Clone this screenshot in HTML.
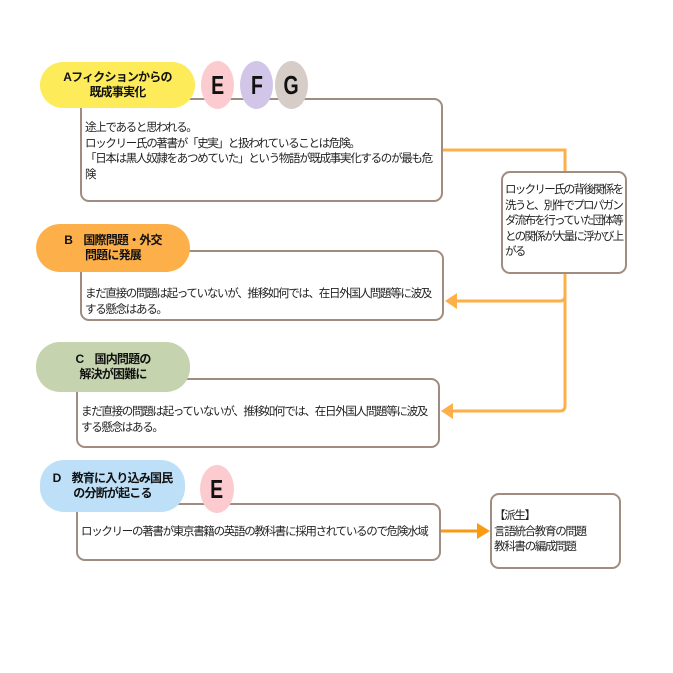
<html><head><style>
body{margin:0;width:673px;height:673px;background:#fff;position:relative;overflow:hidden;font-family:"Liberation Sans","Noto Sans CJK JP",sans-serif;}
.p{position:absolute;border-radius:24px;font-weight:bold;font-size:12px;letter-spacing:-0.8px;text-align:center;line-height:15px;display:flex;align-items:center;justify-content:center;color:#111;}
.b{position:absolute;border:2px solid #a08c80;border-radius:9px;background:#fff;font-size:11.5px;letter-spacing:-1.3px;line-height:15.5px;color:#222;box-sizing:border-box;}
.c{position:absolute;width:33px;height:48px;border-radius:50%;font-weight:bold;font-size:26px;display:flex;align-items:center;justify-content:center;color:#111;}
.c span{display:inline-block;transform:scaleX(0.75)}
</style></head><body>
<svg width="673" height="673" style="position:absolute;left:0;top:0">
<g fill="none" stroke="#fdb04a" stroke-width="3">
<path d="M442 150 H565 V172"/>
<path d="M565 273 V406 Q565 411 560 411 H452"/>
<path d="M565 296 Q565 301 560 301 H456"/>
</g>
<polygon points="445,301 457,293 457,309" fill="#fdb04a"/>
<polygon points="441,411 453,403 453,419" fill="#fdb04a"/>
<line x1="440" y1="531" x2="478" y2="531" stroke="#f99a10" stroke-width="3"/>
<polygon points="490,531 477,523 477,539" fill="#f99a10"/>
</svg>
<div class="b" style="left:80px;top:98px;width:363px;height:104px;padding:21px 2px 0 3px">途上であると思われる。<br>ロックリー氏の著書が「史実」と扱われていることは危険。<br>「日本は黒人奴隷をあつめていた」という物語が既成事実化するのが最も危険</div>
<div class="p" style="left:40px;top:62px;width:155px;height:46px;background:#fdeb5a">Aフィクションからの<br>既成事実化</div>
<div class="c" style="left:201px;top:61px;background:#fccbd0"><span>E</span></div>
<div class="c" style="left:240px;top:61px;background:#d2c6e8"><span>F</span></div>
<div class="c" style="left:275px;top:61px;background:#d6ccc8"><span>G</span></div>
<div class="b" style="left:501px;top:171px;width:126px;height:103px;padding:10px 0 0 2px;letter-spacing:-1.7px">ロックリー氏の背後関係を洗うと、別件でプロパガンダ流布を行っていた団体等との関係が大量に浮かび上がる</div>
<div class="b" style="left:80px;top:250px;width:364px;height:71px;padding:35px 2px 0 3px">まだ直接の問題は起っていないが、推移如何では、在日外国人問題等に波及する懸念はある。</div>
<div class="p" style="left:36px;top:224px;width:154px;height:48px;background:#fdb04a">B　国際問題・外交<br>問題に発展</div>
<div class="b" style="left:76px;top:378px;width:364px;height:70px;padding:25px 2px 0 3px">まだ直接の問題は起っていないが、推移如何では、在日外国人問題等に波及する懸念はある。</div>
<div class="p" style="left:36px;top:342px;width:154px;height:50px;background:#c5d3ae">C　国内問題の<br>解決が困難に</div>
<div class="b" style="left:76px;top:503px;width:365px;height:58px;padding:20px 2px 0 3px">ロックリーの著書が東京書籍の英語の教科書に採用されているので危険水域</div>
<div class="p" style="left:40px;top:460px;width:145px;height:52px;background:#bde0f8">D　教育に入り込み国民<br>の分断が起こる</div>
<div class="c" style="left:200px;top:465px;width:34px;background:#fccbd0"><span>E</span></div>
<div class="b" style="left:490px;top:493px;width:131px;height:76px;padding:14px 2px 0 2px">【派生】<br>言語統合教育の問題<br>教科書の編成問題</div>
</body></html>
